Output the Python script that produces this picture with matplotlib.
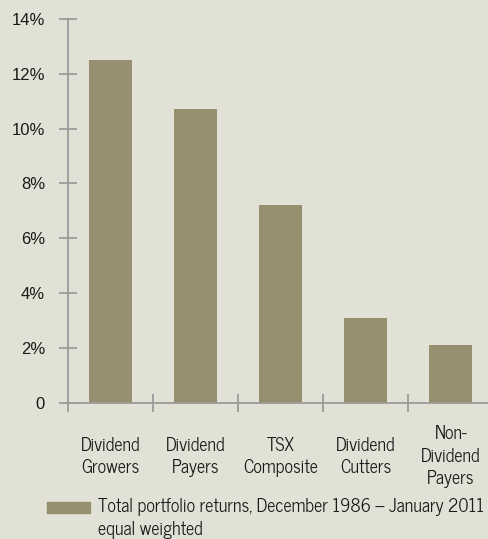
import numpy as np
import matplotlib.pyplot as plt
from matplotlib.patches import Rectangle

cats = ["Dividend\nGrowers", "Dividend\nPayers", "TSX\nComposite", "Dividend\nCutters", "Non-\nDividend\nPayers"]
vals = [12.5, 10.7, 7.2, 3.1, 2.1]
yticks = [0, 2, 4, 6, 8, 10, 12, 14]
ylabels = ["0", "2%", "4%", "6%", "8%", "10%", "12%", "14%"]
legend_txt = "Total portfolio returns, December 1986 \u2013 January 2011\nequal weighted"

bg = "#e1e1d6"
bar_c = "#979070"
axc = "#9b9b9b"
txtc = "#1a1a1a"
plt.rcParams['font.family'] = ['News Cycle', 'Liberation Sans', 'DejaVu Sans']

fig = plt.figure(figsize=(4.89, 5.39), dpi=100, facecolor=bg)
ax = fig.add_axes([0.139, 0.2375, 0.861, 0.7272], facecolor=bg)

x = np.arange(len(vals))
ax.bar(x, vals, width=0.5, color=bar_c)

ax.set_xlim(-0.5, 4.45)
ax.set_ylim(-0.3, 14)
for s in ["top", "right"]:
    ax.spines[s].set_visible(False)
ax.spines['bottom'].set_position(('data', 0))
ax.spines['left'].set_bounds(-0.3, 14)
for s in ["bottom", "left"]:
    ax.spines[s].set_color(axc)
    ax.spines[s].set_linewidth(1.3)

ax.set_yticks(yticks)
ax.set_yticklabels(ylabels, fontsize=12, color=txtc, family=['Liberation Sans', 'DejaVu Sans'])
ax.tick_params(axis='y', direction='inout', length=13, width=1.3, color=axc, pad=10)

ax.set_xticks(x)
ax.set_xticklabels(cats, fontsize=13, color=txtc, linespacing=1.32, va='center')
ax.tick_params(axis='x', which='major', length=0, pad=39)
ax.set_xticks(x[:-1] + 0.5, minor=True)
ax.tick_params(axis='x', which='minor', direction='inout', length=13, width=1.3, color=axc)

# legend drawn by hand so the swatch sits beside the first line
fig.patches.append(Rectangle((47 / 489, 1 - 513 / 539), 43 / 489, 11 / 539,
                             transform=fig.transFigure, color=bar_c))
fig.text(98 / 489, 1 - 498 / 539, legend_txt, fontsize=13, color=txtc,
         va='top', ha='left', linespacing=1.33)

fig.savefig("out.png", dpi=100, facecolor=bg)
